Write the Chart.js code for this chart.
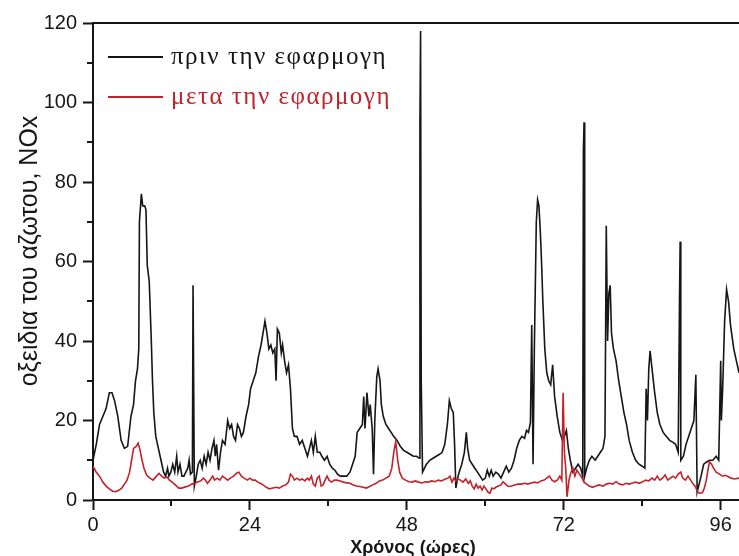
<!DOCTYPE html>
<html lang="el">
<head>
<meta charset="utf-8">
<title>NOx</title>
<script src="https://cdn.jsdelivr.net/npm/chart.js@4.4.1/dist/chart.umd.min.js"></script>
<style>
    html, body { margin: 0; padding: 0; background: #ffffff; }
    #wrap { width: 739px; height: 556px; }
</style>
</head>
<body>
<div id="wrap"><canvas id="noxChart" width="739" height="556"></canvas></div>
<script>
// ώρες / τιμές NOx, διαβασμένες από το γράφημα
const beforeHours = [
    0, 0.5, 1.0, 1.5, 2.0, 2.5, 2.9, 3.3, 3.8, 4.3, 4.8, 5.3, 5.8, 6.2, 6.5, 6.8, 7.0, 7.1, 7.4, 7.6,
    7.9, 8.1, 8.3, 8.6, 8.9, 9.1, 9.3, 9.6, 10.0, 10.4, 10.8, 11.1, 11.4, 11.6, 11.9, 12.2, 12.5, 12.8, 13.0, 13.3,
    13.6, 13.9, 14.2, 14.5, 14.7, 14.9, 15.2, 15.3, 15.5, 15.8, 16.1, 16.4, 16.7, 17.0, 17.3, 17.6, 17.9, 18.2, 18.5, 18.7,
    18.9, 19.2, 19.5, 19.8, 20.2, 20.6, 20.9, 21.2, 21.5, 21.8, 22.1, 22.4, 22.7, 23.0, 23.4, 23.8, 24.1, 24.5, 24.9, 25.3,
    25.7, 26.0, 26.3, 26.6, 26.9, 27.2, 27.5, 27.8, 28.0, 28.2, 28.5, 28.8, 29.0, 29.3, 29.6, 29.9, 30.2, 30.5, 30.8, 31.2,
    31.6, 32.0, 32.4, 32.8, 33.1, 33.4, 33.7, 34.0, 34.3, 34.7, 35.0, 35.4, 35.8, 36.2, 36.6, 37.0, 37.4, 37.8, 38.3, 38.8,
    39.3, 39.7, 40.1, 40.4, 40.8, 41.2, 41.4, 41.6, 41.9, 42.2, 42.4, 42.7, 42.9, 43.1, 43.4, 43.6, 43.9, 44.1, 44.4, 44.8,
    45.2, 45.6, 46.0, 46.5, 47.0, 47.5, 48.0, 48.5, 49.0, 49.5, 49.9, 50.0, 50.1, 50.2, 50.4, 50.7, 51.0, 51.5, 52.0, 52.5,
    53.0, 53.4, 53.8, 54.2, 54.5, 54.8, 55.1, 55.3, 55.5, 55.7, 56.0, 56.4, 56.8, 57.1, 57.3, 57.6, 58.0, 58.4, 58.8, 59.2,
    59.6, 60.0, 60.3, 60.6, 60.9, 61.2, 61.6, 62.0, 62.4, 62.8, 63.2, 63.6, 64.0, 64.4, 64.8, 65.2, 65.6, 66.0, 66.3, 66.6,
    66.9, 67.1, 67.3, 67.5, 67.8, 68.0, 68.2, 68.4, 68.6, 68.8, 69.1, 69.4, 69.7, 70.0, 70.3, 70.6, 71.0, 71.4, 71.8, 72.1,
    72.4, 72.7, 73.0, 73.4, 73.8, 74.2, 74.6, 74.9, 75.0, 75.1, 75.2, 75.5, 75.9, 76.3, 76.8, 77.2, 77.6, 78.0, 78.3, 78.5,
    78.7, 78.9, 79.1, 79.3, 79.6, 80.0, 80.4, 80.8, 81.2, 81.6, 82.0, 82.5, 83.0, 83.5, 84.0, 84.4, 84.6, 84.8, 85.0, 85.2,
    85.5, 85.9, 86.3, 86.7, 87.2, 87.7, 88.2, 88.7, 89.1, 89.5, 89.7, 89.8, 89.9, 90.3, 90.7, 91.1, 91.5, 91.9, 92.2, 92.4,
    92.7, 93.0, 93.4, 93.8, 94.3, 94.8, 95.3, 95.7, 96.0, 96.1, 96.3, 96.6, 96.9, 97.2, 97.5, 98.0, 98.4, 98.8
];
const beforeValues = [
    10, 14, 19, 21, 23, 27, 27, 25, 21, 15, 13, 13.5, 21, 24, 30, 33, 38, 70, 77, 74,
    74, 73, 59, 55, 41, 30, 22, 16, 13, 10, 7, 6, 8, 6, 7, 9, 7, 11, 7, 9,
    6, 6, 7, 8, 10, 6.5, 7, 54, 3.5, 6, 9, 10, 8, 11, 9, 12, 10, 13, 15, 11,
    14, 7.5, 12, 15, 14, 20, 18, 19, 16, 15, 19, 18, 16, 17, 21, 24, 28, 30, 32, 36,
    39, 42, 45, 42, 38, 39, 37, 38, 30, 43, 42, 37, 39, 35, 32, 34, 28, 18, 16, 16,
    14, 15, 13, 11, 13, 15, 12, 16, 12, 12, 11, 10, 11, 9, 8, 7.5, 6.5, 6, 6, 6,
    7, 9, 11, 17, 18, 19, 26, 18, 27, 21, 24, 18, 6.5, 20, 31, 33, 30, 24, 21, 19,
    18, 17, 16, 15, 13.5, 12.5, 12, 11.5, 11, 11, 10.5, 95, 118, 30, 7, 8, 9, 10, 10.5, 11,
    11.5, 12, 14, 19, 25, 23, 22, 14, 3, 5, 7, 9, 12, 17, 13, 10, 9, 8, 7, 6,
    5, 5.5, 7.5, 6, 7.5, 6, 7, 6.5, 5.5, 7, 8.5, 7, 8, 10, 13, 15, 16, 15.5, 17.5, 17,
    19.5, 44, 9, 38, 70, 75.5, 74, 68, 60, 50, 38, 32, 30, 29, 34, 26, 21, 17, 15, 16,
    17.5, 13, 10, 7, 8, 9, 8, 6, 88, 95, 6, 8, 10, 11, 10, 11, 12, 13, 16, 69,
    40, 52, 54, 42, 38, 35, 30, 26, 22, 19, 15, 12, 10, 9, 8.5, 8, 28, 20, 33, 37.5,
    33, 27, 22, 19, 17, 16, 15, 14.5, 14, 12, 50, 65, 10, 11, 14, 16, 18, 20, 31.5, 2,
    4, 6, 9, 9.5, 10, 10, 11, 10, 35, 20, 28, 45, 53, 50, 44, 38, 35, 32
];
const afterHours = [
    0, 0.5, 1.0, 1.5, 2.0, 2.5, 3.0, 3.5, 4.0, 4.4, 4.8, 5.2, 5.6, 5.9, 6.2, 6.6, 6.9, 7.2, 7.5, 7.8,
    8.2, 8.7, 9.2, 9.7, 10.1, 10.5, 10.9, 11.3, 11.7, 12.1, 12.6, 13.1, 13.6, 14.1, 14.6, 15.1, 15.6, 16.0, 16.5, 16.9,
    17.2, 17.5, 17.9, 18.3, 18.6, 19.0, 19.4, 19.8, 20.2, 20.6, 21.0, 21.5, 22.0, 22.3, 22.7, 23.1, 23.6, 24.0, 24.4, 24.8,
    25.2, 25.6, 26.0, 26.5, 27.0, 27.5, 28.0, 28.5, 29.0, 29.5, 29.9, 30.2, 30.5, 30.8, 31.2, 31.6, 32.0, 32.4, 32.8, 33.1,
    33.4, 33.7, 34.0, 34.3, 34.6, 34.9, 35.2, 35.5, 35.8, 36.1, 36.5, 36.9, 37.3, 37.8, 38.3, 38.8, 39.3, 39.8, 40.3, 40.8,
    41.3, 41.8, 42.3, 42.8, 43.3, 43.8, 44.3, 44.8, 45.3, 45.7, 46.0, 46.3, 46.6, 46.9, 47.3, 47.8, 48.3, 48.8, 49.3, 49.8,
    50.3, 50.8, 51.3, 51.8, 52.3, 52.8, 53.3, 53.8, 54.3, 54.6, 54.9, 55.2, 55.5, 55.8, 56.2, 56.6, 57.0, 57.4, 57.7, 58.0,
    58.3, 58.6, 58.9, 59.2, 59.5, 59.8, 60.1, 60.4, 60.7, 61.0, 61.3, 61.6, 62.0, 62.4, 62.7, 63.1, 63.5, 64.0, 64.5, 65.0,
    65.5, 66.0, 66.5, 67.0, 67.5, 68.0, 68.5, 69.0, 69.4, 69.8, 70.2, 70.6, 71.0, 71.4, 71.7, 71.9, 72.1, 72.3, 72.5, 72.8,
    73.1, 73.4, 73.7, 74.0, 74.4, 74.8, 75.1, 75.5, 75.9, 76.4, 76.9, 77.4, 78.0, 78.5, 79.0, 79.5, 80.0, 80.5, 81.0, 81.5,
    82.0, 82.5, 83.0, 83.5, 84.0, 84.5, 85.0, 85.5, 85.9, 86.3, 86.7, 87.1, 87.5, 87.9, 88.3, 88.7, 89.1, 89.5, 89.9, 90.2,
    90.6, 91.0, 91.4, 91.8, 92.1, 92.5, 92.8, 93.2, 93.5, 93.8, 94.1, 94.3, 94.6, 94.9, 95.3, 95.8, 96.3, 96.7, 97.1, 97.6,
    98.1, 98.8
];
const afterValues = [
    8.5, 7, 6, 4.5, 3.5, 2.8, 2.2, 2.1, 2.5, 3, 4, 5, 7, 10, 13, 13.5, 14.3, 12.5, 10, 8,
    6.3, 5.5, 5, 6, 6.7, 6, 5.5, 5.8, 5, 4.5, 3.8, 3, 3, 3.3, 3.5, 4, 4.2, 4.5, 4.8, 5.5,
    5, 4.2, 5, 6, 5, 5.5, 5, 6, 5.5, 5, 5.5, 6, 6.8, 7, 6, 5.5, 5, 5.5, 5, 5,
    4.5, 4.2, 3.8, 3.2, 2.8, 3, 3.2, 3, 3.5, 3.8, 4.5, 6.5, 6, 5, 5.5, 5, 5.3, 4.8, 5.5, 5,
    6, 4, 3.5, 5.5, 6, 3.5, 3.8, 5, 6, 5, 4.5, 5, 5, 4.8, 4.5, 4.3, 4.2, 3.8, 3.5, 3.4,
    3.2, 3, 3.4, 3.8, 4.2, 4.8, 5, 5.5, 6, 8, 12, 14.7, 10, 7, 5.5, 5, 4.6, 4.5, 4.8, 4.5,
    4.3, 4.6, 4.5, 4.8, 4.6, 5, 4.8, 5.2, 5.5, 6, 4.5, 5.5, 4.8, 5.3, 5, 4.5, 5.3, 4.2, 4.8, 3.5,
    2.8, 4, 3, 3.5, 2.5, 3.5, 2.8, 2, 1.7, 3, 2.8, 3.2, 3.5, 3.8, 4.6, 4, 3.4, 3.5, 3.8, 4,
    4, 4.2, 4, 4.3, 4.5, 4.3, 4.8, 5, 5.5, 6, 5, 4.6, 5, 6, 5, 27, 12, 8, 0.8, 5,
    7, 8, 6, 7.5, 6.5, 5.5, 4.5, 4, 3.5, 3.2, 3.5, 3.8, 3.5, 4, 4.2, 4, 4.6, 4, 3.8, 4.2,
    4, 4.3, 4.5, 4.2, 4.5, 5, 4.8, 5.5, 5, 6, 5, 5.5, 6.3, 5, 5.5, 6, 5.5, 6.5, 7, 5.5,
    5, 6, 5, 4, 3.4, 2, 1.7, 1.8, 3, 5, 8, 9.6, 9, 8, 7, 6.5, 6, 6.2, 5.9, 5.5,
    5.3, 5.5
];

const seriesLabels = ['πριν την εφαρμογη', 'μετα την εφαρμογη'];
const seriesColors = ['#161616', '#c4222a'];
const xTicks = [0, 24, 48, 72, 96];
const xMinorTicks = [12, 36, 60, 84];
const yTicks = [0, 20, 40, 60, 80, 100, 120];
const yMinorTicks = [10, 30, 50, 70, 90, 110];
const xTitle = 'Χρόνος (ώρες)';
const yTitle = 'οξειδια του αζωτου, NOx';

const axisColor = '#161616';
const toPoints = (hours, values) => hours.map((h, i) => ({ x: h, y: values[i] }));

// πάνω γραμμή πλαισίου, δευτερεύουσες υποδιαιρέσεις, τίτλοι αξόνων, υπόμνημα
const framePlugin = {
    id: 'frame',
    afterDraw(chart) {
        const { ctx, chartArea, scales } = chart;
        ctx.save();
        ctx.strokeStyle = axisColor;
        ctx.lineWidth = 2;
        ctx.beginPath();
        ctx.moveTo(chartArea.left - 1, chartArea.top);
        ctx.lineTo(chartArea.right, chartArea.top);
        yMinorTicks.forEach((v) => {
            const y = Math.round(scales.y.getPixelForValue(v));
            ctx.moveTo(chartArea.left - 6, y);
            ctx.lineTo(chartArea.left, y);
        });
        xMinorTicks.forEach((v) => {
            const x = Math.round(scales.x.getPixelForValue(v));
            ctx.moveTo(x, chartArea.bottom);
            ctx.lineTo(x, chartArea.bottom + 6);
        });
        ctx.stroke();

        ctx.fillStyle = axisColor;
        ctx.textAlign = 'center';
        ctx.font = 'bold 18px "Liberation Sans", Arial, sans-serif';
        ctx.textBaseline = 'alphabetic';
        ctx.fillText(xTitle, 413, 553);

        ctx.save();
        ctx.translate(30, 251);
        ctx.rotate(-Math.PI / 2);
        ctx.textBaseline = 'middle';
        ctx.font = '25px "Liberation Sans", Arial, sans-serif';
        ctx.fillText(yTitle, 0, 0);
        ctx.restore();

        ctx.textAlign = 'left';
        ctx.textBaseline = 'middle';
        ctx.font = '25px "Liberation Serif", serif';
        ctx.letterSpacing = '1.5px';
        chart.data.datasets.forEach((ds, i) => {
            const y = 57 + i * 40;
            ctx.strokeStyle = ds.borderColor;
            ctx.lineWidth = 2;
            ctx.beginPath();
            ctx.moveTo(108, y);
            ctx.lineTo(163, y);
            ctx.stroke();
            ctx.fillStyle = ds.borderColor;
            ctx.fillText(ds.label, 171, y);
        });
        ctx.restore();
    },
};

const tickFont = { family: '"Liberation Sans", Arial, sans-serif', size: 20 };

new Chart(document.getElementById('noxChart'), {
    type: 'line',
    data: {
        datasets: [
            {
                label: seriesLabels[0],
                data: toPoints(beforeHours, beforeValues),
                borderColor: seriesColors[0],
                borderWidth: 1.6,
                pointRadius: 0,
                tension: 0,
                order: 2,
            },
            {
                label: seriesLabels[1],
                data: toPoints(afterHours, afterValues),
                borderColor: seriesColors[1],
                borderWidth: 1.6,
                pointRadius: 0,
                tension: 0,
                order: 1,
            },
        ],
    },
    options: {
        responsive: false,
        animation: false,
        events: [],
        layout: { padding: { top: 23, right: 0, left: 0, bottom: 0 } },
        plugins: {
            legend: { display: false },
            tooltip: { enabled: false },
        },
        scales: {
            x: {
                type: 'linear',
                min: 0,
                max: 98.8,
                afterBuildTicks: (scale) => {
                    scale.ticks = xTicks.map((v) => ({ value: v }));
                },
                afterFit: (scale) => {
                    scale.height = 56;
                },
                ticks: { color: axisColor, font: tickFont, padding: 3, maxRotation: 0 },
                grid: { drawOnChartArea: false, tickLength: 10, tickWidth: 2, tickColor: axisColor },
                border: { display: true, color: axisColor, width: 2 },
            },
            y: {
                min: 0,
                max: 120,
                afterBuildTicks: (scale) => {
                    scale.ticks = yTicks.map((v) => ({ value: v }));
                },
                afterFit: (scale) => {
                    scale.width = 93;
                },
                ticks: { color: axisColor, font: tickFont, padding: 6 },
                grid: { drawOnChartArea: false, tickLength: 10, tickWidth: 2, tickColor: axisColor },
                border: { display: true, color: axisColor, width: 2 },
            },
        },
    },
    plugins: [framePlugin],
});
</script>
</body>
</html>
